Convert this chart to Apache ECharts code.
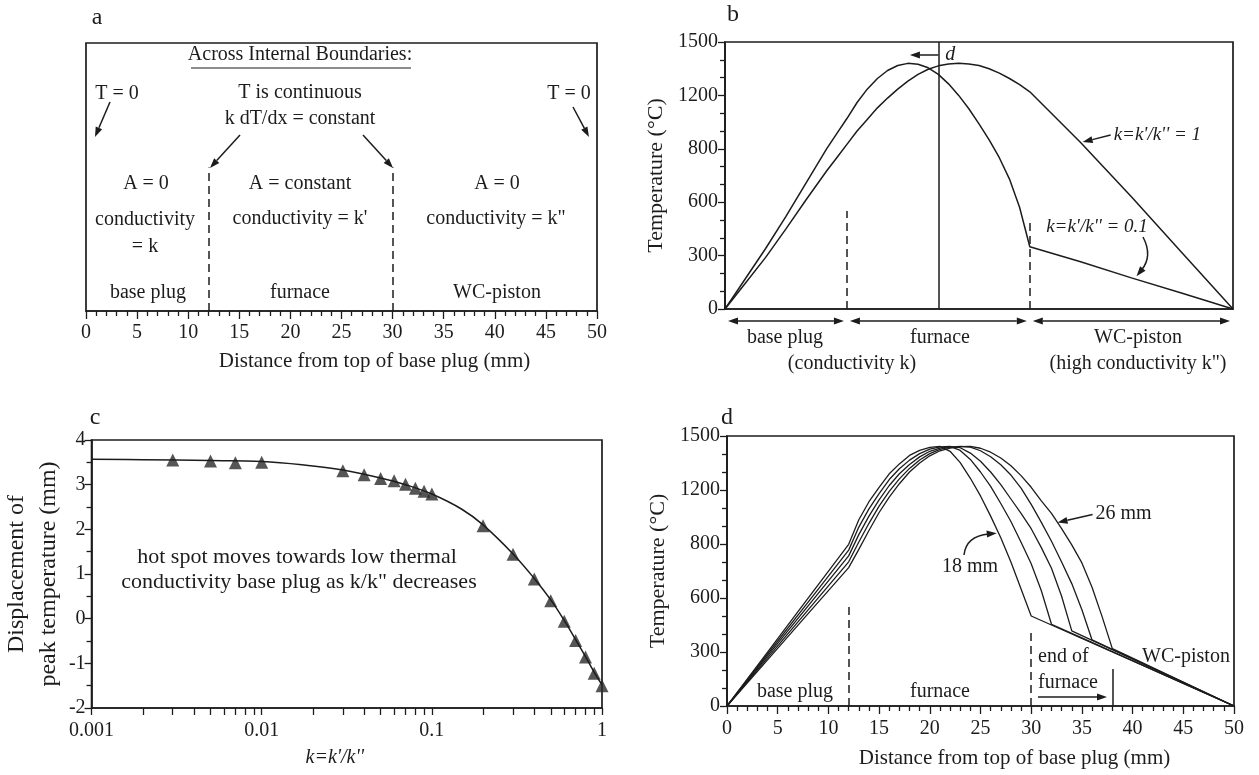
<!DOCTYPE html>
<html>
<head>
<meta charset="utf-8">
<title>Hot spot displacement</title>
<script src="https://cdn.jsdelivr.net/npm/echarts@6/dist/echarts.min.js"></script>
<style>
  html, body { margin: 0; padding: 0; background: #fff; }
  #main { width: 1259px; height: 775px; }
</style>
</head>
<body>
<div id="main"></div>
<script>
// ---- data ----
var furnaceBounds = [12, 30];                 // mm, panel a / b
var tempTicks = [0, 300, 600, 900, 1200, 1500];
var tempTickLabels = ['0', '300', '600', '800', '1200', '1500']; // printed labels

// panel b: temperature profiles, [distance mm, T degC]
var bK1 = [[0,0],[2,145],[4,290],[6,450],[8,615],[10,775],[11,850],[12,925],[13,1000],[14,1065],[15,1130],
  [16,1185],[17,1235],[18,1280],[19,1318],[20,1347],[21,1366],[22,1377],[23,1380],[24,1377],[25,1368],
  [26,1350],[27,1325],[28,1295],[29,1260],[30,1220],[35,935],[40,630],[45,315],[50,0]];
var bK01 = [[0,0],[2,170],[4,340],[6,520],[8,710],[10,900],[11,985],[12,1070],[13,1160],[14,1235],[15,1295],
  [16,1340],[17,1368],[18,1380],[19,1375],[20,1355],[21,1318],[22,1265],[23,1200],[24,1125],[25,1040],
  [26,950],[27,850],[28,730],[29,570],[30,350],[35,265],[40,175],[45,88],[50,0]];
var bDashTops = [550, 490];                   // heights of the dashed boundary marks
var bPeakRef = 21;                            // centre-of-furnace line

// panel c: displacement of peak vs k = k'/k''
var cRatio = [0.003,0.005,0.007,0.01,0.03,0.04,0.05,0.06,0.07,0.08,0.09,0.1,0.2,0.3,0.4,0.5,0.6,0.7,0.8,0.9,1];
var cDisp  = [3.55,3.53,3.49,3.50,3.31,3.22,3.14,3.09,3.01,2.92,2.85,2.79,2.08,1.44,0.89,0.40,-0.06,-0.49,-0.86,-1.22,-1.50];
var cFitX  = [0.001,0.002,0.005,0.01,0.02,0.03,0.05,0.07,0.1,0.15,0.2,0.3,0.4,0.5,0.6,0.7,0.8,0.9,1];
var cFitY  = [3.57,3.56,3.54,3.52,3.42,3.33,3.15,3.00,2.79,2.45,2.10,1.45,0.90,0.42,-0.04,-0.47,-0.85,-1.20,-1.48];
var cLogLabels = ['0.001', '0.01', '0.1', '1'];

// panel d: furnace lengths 18..26 mm
var dLengths = ['18 mm', '20 mm', '22 mm', '24 mm', '26 mm'];
var d18 = [[0,0],[4,299],[8,599],[12,898],[13,1035],[14,1135],[15,1215],[16,1290],[17,1345],[18,1392],[19,1420],
  [20,1437],[21,1442],[22,1415],[23,1352],[24,1265],[25,1167],[26,1055],[27,935],[28,800],[29,650],[30,500],
  [35,375],[40,250],[45,125],[50,0]];
var d20 = [[0,0],[4,289],[8,577],[12,866],[13,994],[14,1095],[15,1180],[16,1258],[17,1318],[18,1366],[19,1402],
  [20,1427],[21,1440],[22,1442],[23,1420],[24,1370],[25,1300],[26,1220],[27,1125],[28,1025],[29,910],[30,790],
  [31,640],[32,454],[35,378],[40,252],[45,126],[50,0]];
var d22 = [[0,0],[4,278],[8,556],[12,834],[13,952],[14,1055],[15,1145],[16,1225],[17,1290],[18,1342],[19,1384],
  [20,1415],[21,1433],[22,1441],[23,1435],[24,1405],[25,1360],[26,1300],[27,1230],[28,1150],[29,1070],[30,985],
  [31,880],[32,765],[33,610],[34,417],[35,391],[40,261],[45,130],[50,0]];
var d24 = [[0,0],[4,267],[8,534],[12,801],[13,911],[14,1015],[15,1110],[16,1192],[17,1262],[18,1320],[19,1367],
  [20,1402],[21,1426],[22,1438],[23,1442],[24,1438],[25,1418],[26,1385],[27,1340],[28,1283],[29,1210],[30,1120],
  [31,1020],[32,915],[33,800],[34,680],[35,535],[36,367],[40,262],[45,131],[50,0]];
var d26 = [[0,0],[4,256],[8,513],[12,769],[13,870],[14,975],[15,1075],[16,1160],[17,1235],[18,1300],[19,1350],
  [20,1390],[21,1418],[22,1433],[23,1441],[24,1442],[25,1432],[26,1410],[27,1378],[28,1335],[29,1280],[30,1215],
  [31,1140],[32,1070],[33,985],[34,895],[35,795],[36,660],[37,495],[38,319],[40,266],[45,133],[50,0]];
var dMarks = [[12, 550, 'dashed'], [30, 430, 'dashed'], [38, 205, 'solid']];

// ---- styling ----
var F = '"Liberation Serif", "Times New Roman", serif';
var INK = '#1c1c1c';

var chart = echarts.init(document.getElementById('main'));

function tempLabel(v) {
  var i = tempTicks.indexOf(v);
  return i < 0 ? '' : tempTickLabels[i];
}
function logLabel(v) {
  var i = Math.round(Math.log(v) / Math.LN10) + 3;
  return cLogLabels[i] || '';
}
// decade and in-between ticks of the log axis
var cTicks = [];
[0.001, 0.01, 0.1].forEach(function (d) {
  for (var m = 1; m <= 9; m++) cTicks.push(+(m * d).toPrecision(2));
});
cTicks.push(1);

function vline(x, top, type) {
  return [{ coord: [x, 0], lineStyle: { type: type } }, { coord: [x, top] }];
}

var gridStyle = { show: true, borderColor: INK, borderWidth: 1.7, backgroundColor: 'transparent' };
var lineAx = { show: true, onZero: false, lineStyle: { color: INK, width: 1.7 } };
var tickSt = { color: INK, width: 1.3 };
var labSt = { color: INK, fontFamily: F, fontSize: 20 };
var nameSt = { color: INK, fontFamily: F, fontSize: 21 };

var option = {
  animation: false,
  backgroundColor: '#fff',
  grid: [
    Object.assign({ left: 86, top: 43, width: 511, height: 268 }, gridStyle),
    Object.assign({ left: 725, top: 42, width: 508, height: 267 }, gridStyle),
    Object.assign({ left: 91, top: 440, width: 511, height: 268 }, gridStyle),
    Object.assign({ left: 727, top: 436, width: 507, height: 270 }, gridStyle)
  ],
  xAxis: [
    { gridIndex: 0, type: 'value', min: 0, max: 50, interval: 5,
      axisLine: lineAx, axisTick: { length: 8, lineStyle: tickSt },
      minorTick: { show: true, splitNumber: 5, length: 5, lineStyle: tickSt },
      axisLabel: Object.assign({ margin: 12 }, labSt), splitLine: { show: false },
      name: 'Distance from top of base plug (mm)', nameLocation: 'middle', nameGap: 40,
      nameTextStyle: Object.assign({ padding: [0, 0, 0, 66] }, nameSt) },
    { gridIndex: 1, type: 'value', min: 0, max: 50,
      axisLine: lineAx, axisTick: { show: false }, axisLabel: { show: false }, splitLine: { show: false } },
    { gridIndex: 2, type: 'log', logBase: 10, min: 0.001, max: 1,
      axisLine: lineAx, axisTick: { length: 7, customValues: cTicks, lineStyle: tickSt },
      axisLabel: Object.assign({ margin: 13, formatter: logLabel }, labSt), splitLine: { show: false },
      name: "k=k'/k''", nameLocation: 'middle', nameGap: 40,
      nameTextStyle: Object.assign({ fontStyle: 'italic', padding: [0, 24, 0, 0] }, nameSt, { fontSize: 20 }) },
    { gridIndex: 3, type: 'value', min: 0, max: 50, interval: 5,
      axisLine: lineAx, axisTick: { length: 8, lineStyle: tickSt },
      minorTick: { show: true, splitNumber: 5, length: 5, lineStyle: tickSt },
      axisLabel: Object.assign({ margin: 13 }, labSt), splitLine: { show: false },
      name: 'Distance from top of base plug (mm)', nameLocation: 'middle', nameGap: 42,
      nameTextStyle: Object.assign({ padding: [0, 0, 0, 68] }, nameSt) }
  ],
  yAxis: [
    { gridIndex: 0, type: 'value', min: 0, max: 1, show: false },
    { gridIndex: 1, type: 'value', min: 0, max: 1500, interval: 300,
      axisLine: lineAx, axisTick: { length: 7, lineStyle: tickSt },
      minorTick: { show: true, splitNumber: 3, length: 5, lineStyle: tickSt },
      axisLabel: Object.assign({ margin: 7, formatter: tempLabel }, labSt), splitLine: { show: false },
      name: 'Temperature (°C)', nameLocation: 'middle', nameGap: 58,
      nameTextStyle: Object.assign({}, nameSt, { fontSize: 22 }) },
    { gridIndex: 2, type: 'value', min: -2, max: 4, interval: 1,
      axisLine: lineAx, axisTick: { length: 7, lineStyle: tickSt },
      minorTick: { show: true, splitNumber: 2, length: 5, lineStyle: tickSt },
      axisLabel: Object.assign({ margin: 6 }, labSt), splitLine: { show: false },
      name: 'Displacement of\npeak temperature (mm)', nameLocation: 'middle', nameGap: 22,
      nameTextStyle: Object.assign({}, nameSt, { fontSize: 24, lineHeight: 32 }) },
    { gridIndex: 3, type: 'value', min: 0, max: 1500, interval: 300,
      axisLine: lineAx, axisTick: { length: 7, lineStyle: tickSt },
      minorTick: { show: true, splitNumber: 3, length: 5, lineStyle: tickSt },
      axisLabel: Object.assign({ margin: 7, formatter: tempLabel }, labSt), splitLine: { show: false },
      name: 'Temperature (°C)', nameLocation: 'middle', nameGap: 58,
      nameTextStyle: Object.assign({}, nameSt, { fontSize: 22 }) }
  ],
  series: []
};

var markBase = { silent: true, symbol: 'none', label: { show: false },
  lineStyle: { color: INK, width: 1.5 } };
function marks(list) {
  return Object.assign({}, markBase, { data: list });
}
function prof(name, data, xi, yi) {
  return { name: name, type: 'line', xAxisIndex: xi, yAxisIndex: yi, data: data,
    showSymbol: false, smooth: false, lineStyle: { color: INK, width: 1.5 } };
}

// panel a: boundaries only
option.series.push({ type: 'line', xAxisIndex: 0, yAxisIndex: 0, data: [],
  markLine: marks(furnaceBounds.map(function (x) { return vline(x, 0.535, [8, 5]); })) });

// panel b
var sb = prof('k=1', bK1, 1, 1);
sb.markLine = marks([
  vline(furnaceBounds[0], bDashTops[0], [8, 5]),
  vline(furnaceBounds[1], bDashTops[1], [8, 5]),
  vline(bPeakRef, 1500, 'solid')
]);
option.series.push(sb);
option.series.push(prof('k=0.1', bK01, 1, 1));

// panel c
option.series.push({ type: 'line', xAxisIndex: 2, yAxisIndex: 2, smooth: 0.4, showSymbol: false,
  data: cFitX.map(function (x, i) { return [x, cFitY[i]]; }),
  lineStyle: { color: INK, width: 1.5 } });
option.series.push({ type: 'scatter', xAxisIndex: 2, yAxisIndex: 2, symbol: 'triangle', symbolSize: 13,
  data: cRatio.map(function (x, i) { return [x, cDisp[i]]; }),
  itemStyle: { color: '#2a2a2a' } });

// panel d
[d18, d20, d22, d24, d26].forEach(function (d, i) {
  var s = prof(dLengths[i], d, 3, 3);
  s.lineStyle.width = 1.3;
  if (i === 0) {
    s.markLine = marks(dMarks.map(function (m) {
      return vline(m[0], m[1], m[2] === 'dashed' ? [8, 5] : 'solid');
    }));
  }
  option.series.push(s);
});

chart.setOption(option);

// ---- annotations ----
function P(g, x, y) { return chart.convertToPixel({ gridIndex: g }, [x, y]); }
function T(x, y, s, o) {
  return { type: 'text', x: x, y: y, silent: true,
    style: Object.assign({ text: s, fontFamily: F, fontSize: 20, fill: INK,
      align: 'center', verticalAlign: 'middle' }, o || {}) };
}
function head(x2, y2, ux, uy, hl, hw) {
  var bx = x2 - ux * hl, by = y2 - uy * hl;
  return { type: 'polygon', silent: true,
    shape: { points: [[x2, y2], [bx - uy * hw, by + ux * hw], [bx + uy * hw, by - ux * hw]] },
    style: { fill: INK } };
}
function arrow(x1, y1, x2, y2, both) {
  var dx = x2 - x1, dy = y2 - y1, L = Math.sqrt(dx * dx + dy * dy), ux = dx / L, uy = dy / L;
  var hl = 10, hw = 3.5;
  var out = [{ type: 'line', silent: true,
    shape: { x1: both ? x1 + ux * hl : x1, y1: both ? y1 + uy * hl : y1, x2: x2 - ux * hl, y2: y2 - uy * hl },
    style: { stroke: INK, lineWidth: 1.5 } }, head(x2, y2, ux, uy, hl, hw)];
  if (both) out.push(head(x1, y1, -ux, -uy, hl, hw));
  return out;
}
function curved(x1, y1, cx, cy, x2, y2) {
  var dx = x2 - cx, dy = y2 - cy, L = Math.sqrt(dx * dx + dy * dy), ux = dx / L, uy = dy / L;
  return [{ type: 'bezierCurve', silent: true,
    shape: { x1: x1, y1: y1, cpx1: cx, cpy1: cy, x2: x2 - ux * 8, y2: y2 - uy * 8 },
    style: { stroke: INK, lineWidth: 1.5, fill: null } }, head(x2, y2, ux, uy, 10, 3.5)];
}

var g = [];
// panel a
g.push(T(97, 18, 'a', { fontSize: 24 }));
g.push(T(300, 55, 'Across Internal Boundaries:'));
g.push({ type: 'line', silent: true, shape: { x1: 191, y1: 68, x2: 411, y2: 68 }, style: { stroke: INK, lineWidth: 1.2 } });
g.push(T(117, 94, 'T = 0'), T(569, 94, 'T = 0'));
g = g.concat(arrow(110, 102, 95, 137), arrow(573, 107, 589, 137));
g.push(T(300, 93, 'T is continuous'), T(300, 119, 'k dT/dx = constant'));
g = g.concat(arrow(240, 135, 210, 168), arrow(363, 135, 393, 168));
g.push(T(146, 184, 'A = 0'), T(145, 220, 'conductivity'), T(145, 247, '= k'));
g.push(T(300, 184, 'A = constant'), T(300, 219, "conductivity = k'"));
g.push(T(497, 184, 'A = 0'), T(496, 219, 'conductivity = k"'));
g.push(T(148, 293, 'base plug'), T(300, 293, 'furnace'), T(497, 293, 'WC-piston'));

// panel b
g.push(T(733, 15, 'b', { fontSize: 24 }));
var pa = P(1, bPeakRef, 1427), pb = P(1, 18.2, 1427);
g = g.concat(arrow(pa[0], pa[1], pb[0], pb[1]));
g.push(T(pa[0] + 12, pa[1], 'd', { fontStyle: 'italic' }));
var k1 = P(1, 35.2, 938);
g = g.concat(arrow(k1[0] + 28, k1[1] - 7, k1[0], k1[1]));
g.push(T(k1[0] + 31, k1[1] - 7, "k=k'/k'' = 1", { align: 'left', fontStyle: 'italic', fontSize: 19 }));
g.push(T(1097, 227, "k=k'/k'' = 0.1", { fontStyle: 'italic', fontSize: 19 }));
var k01 = P(1, 40.5, 167);
g = g.concat(curved(1143, 237, 1153, 256, k01[0], k01[1] - 3));
var segs = [[0, furnaceBounds[0]], [furnaceBounds[0], furnaceBounds[1]], [furnaceBounds[1], 50]];
segs.forEach(function (s) {
  var p1 = P(1, s[0], 0), p2 = P(1, s[1], 0);
  g = g.concat(arrow(p1[0] + 3, 321, p2[0] - 3, 321, true));
});
g.push(T(785, 338, 'base plug'), T(852, 364, '(conductivity k)'), T(940, 338, 'furnace'));
g.push(T(1138, 338, 'WC-piston'), T(1138, 364, '(high conductivity k")'));

// panel c
g.push(T(95, 418, 'c', { fontSize: 24 }));
g.push(T(297, 557, 'hot spot moves towards low thermal', { fontSize: 22 }));
g.push(T(299, 582, 'conductivity base plug as k/k" decreases', { fontSize: 22 }));

// panel d
g.push(T(727, 418, 'd', { fontSize: 24 }));
g.push(T(795, 692, 'base plug'), T(940, 692, 'furnace'));
g.push(T(1038, 657, 'end of', { align: 'left' }), T(1038, 683, 'furnace', { align: 'left' }));
g = g.concat(arrow(1038, 697, 1107, 697));
g.push(T(1186, 657, 'WC-piston'));
var t18 = P(3, 26.8, 960);
g.push(T(970, 567, dLengths[0]));
g = g.concat(curved(964, 555, 966, 536, t18[0] - 2, t18[1]));
var t26 = P(3, 32.6, 1019);
g = g.concat(arrow(t26[0] + 35, t26[1] - 8, t26[0], t26[1]));
g.push(T(t26[0] + 38, t26[1] - 9, dLengths[4], { align: 'left' }));

chart.setOption({ graphic: g });
</script>
</body>
</html>
